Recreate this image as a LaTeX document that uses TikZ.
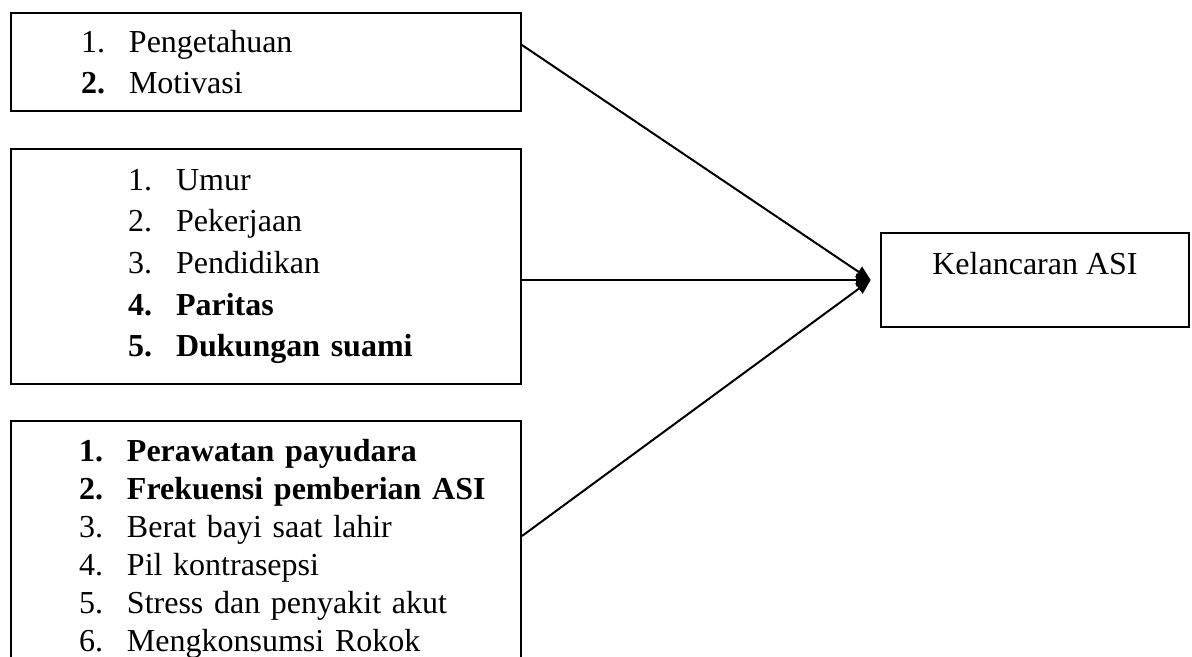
\documentclass[tikz,border=0pt]{standalone}
\usepackage{fontspec}
\setmainfont{Liberation Serif}
\usetikzlibrary{arrows.meta,positioning,calc}
\newlength{\geser}
\tikzset{
  faktor/.style={draw=black,line width=0.75pt,anchor=north west,text width=191.25pt,inner xsep=0pt,inner ysep=0pt,align=left,font=\fontsize{12}{#1}\selectfont},
  hasilbox/.style={draw=black,line width=0.75pt,anchor=north west,minimum width=115.5pt,inner sep=0pt,text height=15.75pt,text depth=19.5pt,font=\fontsize{12}{14}\selectfont},
  panah/.style={-{Triangle[length=5.5pt,width=4.6pt]},line width=0.75pt}
}
\newcommand{\butir}[2]{\hspace*{\geser}\makebox[18pt][l]{#1}#2}

\begin{document}
\begin{tikzpicture}[x=0.375pt,y=-0.375pt]
  \useasboundingbox (0,0) rectangle (1192,657);
  % three groups of factors
  \node[faktor=15.4pt, minimum height=36.75pt] (f1) at (10,12)
    {\setlength{\geser}{26.25pt}\butir{1.}{Pengetahuan}\\\butir{\textbf{2.}}{Motivasi}};
  \node[faktor=15.6pt, minimum height=88.1pt] (f2) at (10,148)
    {\setlength{\geser}{43.9pt}\butir{1.}{Umur}\\\butir{2.}{Pekerjaan}\\\butir{3.}{Pendidikan}\\
     \butir{\textbf{4.}}{\textbf{Paritas}}\\\butir{\textbf{5.}}{\textbf{Dukungan suami}}};
  \node[faktor=14.2pt, minimum height=96pt] (f3) at (10,420)
    {\setlength{\geser}{25.5pt}\butir{\textbf{1.}}{\textbf{Perawatan payudara}}\\\butir{\textbf{2.}}{\textbf{Frekuensi pemberian ASI}}\\
     \butir{3.}{Berat bayi saat lahir}\\\butir{4.}{Pil kontrasepsi}\\\butir{5.}{Stress dan penyakit akut}\\
     \butir{6.}{Mengkonsumsi Rokok}};
  % outcome
  \node[hasilbox] (hasil) at (880,232) {Kelancaran ASI};
  \draw[panah] ([yshift=-12.4pt]f1.north east) -- ([xshift=-3.5pt]hasil.west);
  \draw[panah] (f2.east |- hasil.west) -- ([xshift=-3.5pt]hasil.west);
  \draw[panah] ([yshift=-43.5pt]f3.north east) -- ([xshift=-3.5pt]hasil.west);
\end{tikzpicture}
\end{document}
